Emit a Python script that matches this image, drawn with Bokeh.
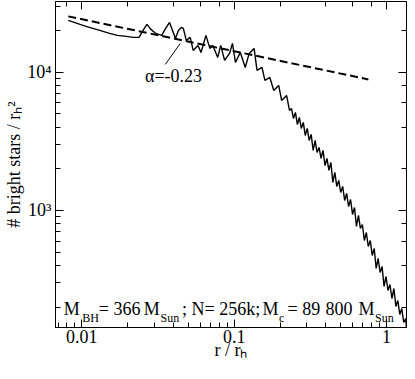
from bokeh.plotting import figure
from bokeh.models import Range1d, LogAxis, Label, CustomJSTickFormatter
from bokeh.embed import file_html
from bokeh.resources import INLINE

# ---- data ----
r_rh = [0.00816, 0.00892, 0.00975, 0.01066, 0.01183, 0.01312, 0.01523, 0.01715, 0.0196, 0.02175,
        0.02378, 0.02523, 0.02678, 0.02842, 0.03061, 0.03201, 0.03346, 0.03551, 0.03769, 0.03941,
        0.0412, 0.04308, 0.04504, 0.04641, 0.04852, 0.05149, 0.05384, 0.05798, 0.06063, 0.0653,
        0.06928, 0.07244, 0.07806, 0.0816, 0.08659, 0.09329, 0.0975, 0.10195, 0.1098, 0.1183,
        0.1255, 0.1352, 0.1413, 0.1523, 0.1592, 0.1715, 0.182, 0.196, 0.205, 0.2208, 0.2308,
        0.2378, 0.2450, 0.2524, 0.2600, 0.2679, 0.2760, 0.2843, 0.2929, 0.3017, 0.3108,
        0.3202, 0.3299, 0.3399, 0.3502, 0.3608, 0.3717, 0.3829, 0.3945, 0.4064, 0.4187,
        0.4313, 0.4443, 0.4577, 0.4715, 0.4858, 0.5004, 0.5156, 0.5311, 0.5472,
        0.5637, 0.5807, 0.5983, 0.6163, 0.6349, 0.6541, 0.6739, 0.6942, 0.7152, 0.7368,
        0.7590, 0.7820, 0.8056, 0.8299, 0.8550, 0.8808, 0.9074, 0.9348, 0.9631, 0.9922,
        1.0221, 1.0530, 1.0848, 1.1176, 1.1514, 1.1862, 1.2220, 1.2590, 1.2970, 1.3362, 1.356]
density = [23660, 22880, 22130, 21410, 20700, 20020, 19040, 18430, 18120, 17830,
           17830, 20020, 22130, 20360, 19040, 18730, 18430, 20700, 22880, 20020,
           17530, 20020, 21050, 20700, 16960, 17830, 14350, 15600, 13880, 18430,
           14840, 15600, 12780, 15600, 12150, 13650, 16130, 11750, 13880, 10810,
           13650, 14840, 10290, 10810, 8710, 9156, 7375, 8015, 6244, 6786, 5286,
           5465, 4627, 5114, 4187, 4705, 3918, 4329, 3486, 3918, 3208,
           3545, 2716, 3208, 2626, 2855, 2377, 2716, 2116, 2377, 1947,
           2224, 1594, 1883, 1492, 1648, 1349, 1492, 1181, 1327, 1069,
           1201, 935.8, 1051, 766.3, 920.3, 741.2, 792.1, 607.0, 693.3, 549.1,
           607.0, 472.8, 531.3, 380.8, 449.8, 356.3, 393.7, 282.2, 333.3, 264.0,
           291.8, 231.1, 272.9, 202.3, 223.6, 177.1, 195.6, 155.0, 165.7, 135.6]

fit_r = [0.00816, 0.76]
fit_density = [25300, 8860]
fit_label = "α=-0.23"

x_ticks = [0.01, 0.1, 1]
x_tick_labels = ["0.01", "0.1", "1"]
y_ticks = [1000, 10000]
y_tick_labels = ["10³", "10⁴"]

FONT = "Liberation Serif"

p = figure(width=407, height=363, x_axis_type="log", y_axis_type="log",
           x_range=Range1d(0.006726, 1.352), y_range=Range1d(142.6, 32400),
           output_backend="svg", toolbar_location=None,
           min_border_left=55, min_border_right=1, min_border_top=1, min_border_bottom=36,
           background_fill_color="white", border_fill_color="white")
p.grid.visible = False
p.outline_line_color = "black"

def style_axis(ax, font_size):
    ax.axis_line_color = "black"
    ax.major_tick_line_color = "black"
    ax.minor_tick_line_color = "black"
    ax.major_tick_in = 8
    ax.major_tick_out = 0
    ax.minor_tick_in = 5
    ax.minor_tick_out = 0
    ax.major_label_text_font = FONT
    ax.major_label_text_font_size = font_size
    ax.major_label_text_color = "black"
    ax.axis_label_text_font = FONT
    ax.axis_label_text_font_style = "normal"
    ax.axis_label_text_color = "black"

xa = p.xaxis[0]
style_axis(xa, "18px")
xa.major_label_overrides = dict(zip(x_ticks, x_tick_labels))
xa.major_label_standoff = 2
xa.axis_label = "r / rₕ"
xa.axis_label_text_font_size = "18px"
xa.axis_label_standoff = -6

ya = p.yaxis[0]
style_axis(ya, "18px")
ya.major_label_overrides = dict(zip(y_ticks, y_tick_labels))
ya.major_label_standoff = 4
ya.axis_label = "# bright stars / rₕ²"
ya.axis_label_text_font_size = "18px"
ya.axis_label_standoff = 0

top = LogAxis()
right = LogAxis()
for ax in (top, right):
    style_axis(ax, "1px")
    ax.formatter = CustomJSTickFormatter(code="return ' '")
    ax.major_label_text_alpha = 0
    ax.major_label_standoff = 0
p.add_layout(top, "above")
p.add_layout(right, "right")

# data
p.line(r_rh, density, line_color="black", line_width=1.4)
p.line(fit_r, fit_density, line_color="black", line_width=2, line_dash="8 4")

# alpha annotation with leader line
p.line([0.03535, 0.04416], [11370, 16050], line_color="black", line_width=1)
p.add_layout(Label(x=0.026, y=9309, text=fit_label, text_font=FONT, text_font_size="18px",
                   text_color="black", text_baseline="alphabetic", text_align="left"))

# bottom caption with subscripts (screen units relative to the frame's lower-left corner)
pieces = [("M", 8.3, False), ("BH", 26.7, True), ("= 366", 43.3, False), ("M", 88.3, False),
          ("Sun", 105, True), ("; N= 256k;", 126.5, False), ("M", 207, False), ("c", 223.5, True),
          ("= 89", 232, False), ("800", 270, False), ("M", 303, False), ("Sun", 319.5, True)]
for txt, xs, sub in pieces:
    p.add_layout(Label(x=xs, y=10 if sub else 19, x_units="screen", y_units="screen", text=txt,
                       text_font=FONT, text_font_size="12px" if sub else "18px",
                       text_color="black", text_baseline="alphabetic", text_align="left"))

open("out.html", "w").write(file_html(p, INLINE))
